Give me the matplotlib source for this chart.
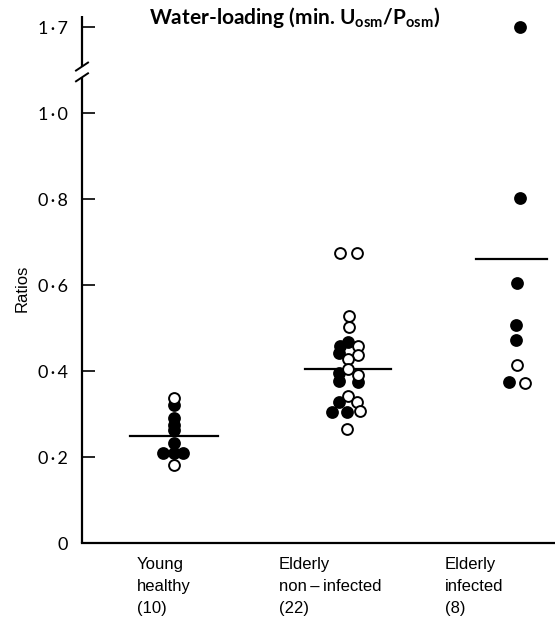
import matplotlib
matplotlib.use("Agg")
import matplotlib.pyplot as plt

plt.rcParams['mathtext.fontset'] = 'custom'
plt.rcParams['mathtext.rm'] = 'Lato'
plt.rcParams['mathtext.bf'] = 'Lato:bold'

# ---------------- data ----------------
categories = [["Young", "healthy"], ["Elderly", "non\u2009\u2013\u2009infected"],
              ["Elderly", "infected"]]
counts = ["(10)", "(22)", "(8)"]

young_vals = [0.338, 0.322, 0.290, 0.275, 0.262, 0.233, 0.209, 0.209, 0.209, 0.181]
young_filled = [0, 1, 1, 1, 1, 1, 1, 1, 1, 0]

elderly_vals = [0.675, 0.675, 0.528, 0.503, 0.468, 0.457, 0.457, 0.441, 0.437,
                0.427, 0.405, 0.395, 0.391, 0.377, 0.375, 0.343, 0.329, 0.329,
                0.305, 0.305, 0.307, 0.265]
elderly_filled = [0, 0, 0, 0, 1, 1, 0, 1, 0,
                  0, 0, 1, 0, 1, 1, 0, 1, 0,
                  1, 1, 0, 0]

infected_vals = [1.70, 0.802, 0.604, 0.507, 0.472, 0.414, 0.375, 0.371]
infected_filled = [1, 1, 1, 1, 1, 0, 1, 0]

group_means = [0.249, 0.405, 0.660]

ytick_values = [0, 0.2, 0.4, 0.6, 0.8, 1.0, 1.7]
ytick_labels = ["0", "0\u2009\u00b7\u20092", "0\u2009\u00b7\u20094",
                "0\u2009\u00b7\u20096", "0\u2009\u00b7\u20098",
                "1\u2009\u00b7\u20090", "1\u2009\u00b7\u20097"]

# ---------------- layout (pixel-like x units) ----------------
centres = [174, 349, 517]
young_dx = [0, 0, 0, 0, 0, 0, -11, 0, 9, 0]
elderly_dx = [-9, 8, 0, 0, -1, -9, 9, -10, 9,
              -1, -1, -10, 9, -10, 9, -1, -10, 8,
              -17, -2, 11, -2]
infected_dx = [3, 3, 0, -1, -1, 0, -8, 8]
mean_spans = [(130, 218), (305, 391), (476, 547)]
label_left = [137, 279, 445]
label_rows = [565, 586.5, 608]


def to_display(v):
    # axis break: values above 1.0 are shifted down so 1.7 sits one step above 1.0
    return v if v <= 1.0 else 1.2 + (v - 1.7)


W, H = 555, 618
fig = plt.figure(figsize=(W / 100, H / 100), dpi=100)
ax = fig.add_axes([82 / W, (H - 543) / H, (W - 82) / W, (543 - 16) / H])
ax.set_xlim(82, 555)
top = (543 - 16) / 430
ax.set_ylim(0, top)

groups = [(young_vals, young_filled, young_dx),
          (elderly_vals, elderly_filled, elderly_dx),
          (infected_vals, infected_filled, infected_dx)]

for gi, (vals, filled, dx) in enumerate(groups):
    for v, f, d in zip(vals, filled, dx):
        ax.plot(centres[gi] + d, to_display(v), 'o', ms=7.8,
                mfc='black' if f else 'white', mec='black', mew=1.4,
                zorder=3 if f else 4, clip_on=False)

for (x0, x1), m in zip(mean_spans, group_means):
    ax.plot([x0, x1], [m, m], color='black', lw=1.6, zorder=2)

# spines
for s in ['top', 'right', 'left']:
    ax.spines[s].set_visible(False)
ax.spines['bottom'].set_linewidth(1.6)

ytr = ax.get_yaxis_transform()
gap_lo, gap_hi = 1.083, 1.108
ax.plot([0, 0], [0, gap_lo], color='black', lw=1.6, transform=ytr,
        clip_on=False, solid_capstyle='butt')
ax.plot([0, 0], [gap_hi, top], color='black', lw=1.6, transform=ytr,
        clip_on=False, solid_capstyle='butt')
# break slashes
dx_ax = 6 / 473
dy = 4 / 430
for yc in (gap_lo, gap_hi):
    ax.plot([-dx_ax, dx_ax], [yc - dy, yc + dy], color='black', lw=1.4,
            transform=ytr, clip_on=False)

ax.set_yticks([to_display(v) for v in ytick_values])
ax.set_yticklabels(ytick_labels, family=['Lato', 'DejaVu Sans'], fontsize=13)
ax.tick_params(axis='y', direction='in', length=9.5, width=1.2, pad=10)
ax.set_xticks([])

fig.text(22 / W, 1 - 288 / H, "Ratios", family='Liberation Sans', fontsize=12,
         rotation=90, ha='center', va='center')

fig.text(295 / W, 1 - 18 / H,
         r"Water-loading (min. U$_{\mathbf{osm}}$/P$_{\mathbf{osm}}$)",
         family='Lato', fontweight='bold', fontsize=15,
         ha='center', va='center')

for x, cat, n in zip(label_left, categories, counts):
    for row, txt in zip(label_rows, cat + [n]):
        fig.text(x / W, 1 - row / H, txt, family=['Liberation Sans', 'DejaVu Sans'],
                 fontsize=12, ha='left', va='center')

fig.savefig("out.png", dpi=100)
